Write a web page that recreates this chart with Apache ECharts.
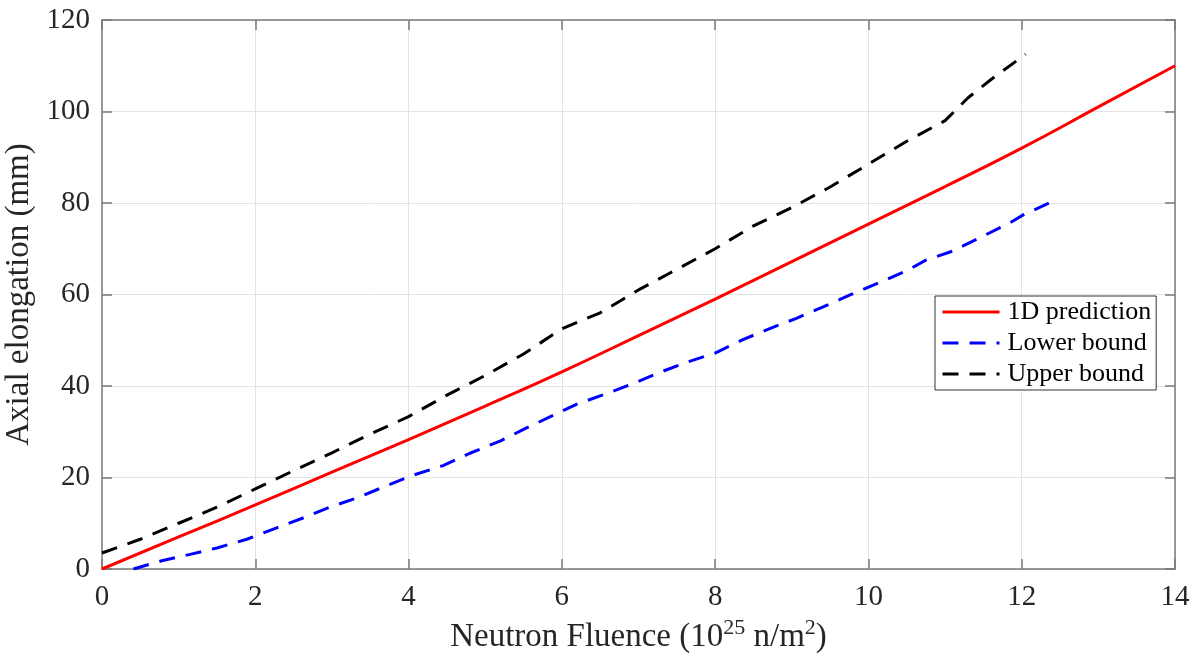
<!DOCTYPE html>
<html><head><meta charset="utf-8">
<script src="https://cdn.jsdelivr.net/npm/echarts@6/dist/echarts.min.js"></script>
<style>html,body{margin:0;padding:0;background:#fff}#c{width:1199px;height:663px}</style>
</head><body><div id="c"></div>
<script>
const xTicks = [0,2,4,6,8,10,12,14];
const yTicks = [0,20,40,60,80,100,120];
const predX = [0,1,2,3,4,5,6,7,8,9,10,11,12,13,14];
const predY = [0,7.0,14,21.2,28.3,35.6,43.1,51,59,67.2,75.4,83.6,92,101,110];
const lowerX = [0.41,0.78,1.15,1.5,1.89,2.28,2.63,2.97,3.37,3.71,4.06,4.45,4.8,5.2,5.5,5.85,6.19,6.56,6.91,7.28,7.63,8.0,8.37,8.72,9.06,9.41,9.76,10.13,10.5,10.75,11.1,11.5,11.87,12.02,12.37];
const lowerY = [0,1.8,3.2,4.6,6.5,9,11.2,13.5,15.8,18.2,20.5,22.6,25.3,28,30.5,33.3,36,38.2,40.4,43,45.2,47.2,50.2,52.6,54.8,57.3,59.9,62.5,65.2,67.5,69.5,72.8,75.9,77.4,80.1];
const upperX = [0,0.5,1,1.5,2,2.5,3,3.5,4,4.5,5,5.5,6,6.5,7,7.5,8,8.5,9,9.5,10,10.5,11,11.3,11.6,12.05];
const upperY = [3.5,6.5,10,13.5,17.5,21.5,25.4,29.5,33.3,38,42.3,47,52.5,56,61,65.5,70,75,79,83.5,88.5,93.5,98,103,107,112.5];
const names = ['1D prediction','Lower bound','Upper bound'];

const zip = (a,b)=>a.map((v,i)=>[v,b[i]]);
const font = 'Liberation Serif';
const axisCol = '#7a7a7a';
const txtCol = '#262626';
const chart = echarts.init(document.getElementById('c'));
const xBase = {type:'value',min:0,max:14,interval:2,
  axisLine:{show:true,onZero:false,lineStyle:{color:axisCol,width:1.5}},
  axisTick:{show:true,inside:true,length:10,lineStyle:{color:axisCol,width:1.5}}};
const yBase = {type:'value',min:0,max:120,interval:20,
  axisLine:{show:true,onZero:false,lineStyle:{color:axisCol,width:1.5}},
  axisTick:{show:true,inside:true,length:10,lineStyle:{color:axisCol,width:1.5}}};
chart.setOption({
  animation:false,
  textStyle:{fontFamily:font},
  grid:{left:102,top:20,width:1073,height:549,containLabel:false,outerBoundsMode:'none'},
  xAxis:[
    Object.assign({},xBase,{position:'bottom',
      axisLabel:{color:txtCol,fontSize:29,fontFamily:font,margin:14,formatter:v=>xTicks.includes(v)?String(v):''},
      splitLine:{show:true,lineStyle:{color:'#e3e3e3',width:1}},
      name:'{a|Neutron Fluence (10}{s|25}{a| n/m}{s|2}{a|)}',nameLocation:'middle',nameGap:46,
      nameTextStyle:{rich:{a:{fontSize:33,fontFamily:font,color:txtCol,verticalAlign:'bottom'},s:{fontSize:22,fontFamily:font,color:txtCol,verticalAlign:'top',padding:[0,0,15,0]}}}}),
    Object.assign({},xBase,{position:'top',axisLabel:{show:false},splitLine:{show:false}})
  ],
  yAxis:[
    Object.assign({},yBase,{position:'left',
      axisLabel:{color:txtCol,fontSize:29,fontFamily:font,margin:12,formatter:v=>yTicks.includes(v)?String(v):''},
      splitLine:{show:true,lineStyle:{color:'#e3e3e3',width:1}},
      name:'Axial elongation (mm)',nameLocation:'middle',nameGap:63,
      nameTextStyle:{fontSize:33,fontFamily:font,color:txtCol}}),
    Object.assign({},yBase,{position:'right',axisLabel:{show:false},splitLine:{show:false}})
  ],
  legend:{left:935,top:296,orient:'vertical',backgroundColor:'#fff',borderColor:'#333',borderWidth:1,
    padding:[3,5,3,6],itemGap:5,itemWidth:57,itemHeight:18,
    itemStyle:{color:'rgba(0,0,0,0)',borderColor:'rgba(0,0,0,0)',borderWidth:0},
    lineStyle:{width:3},
    textStyle:{fontSize:26,fontFamily:font,color:'#000',padding:[0,0,0,3]},data:names},
  series:[
    {name:names[0],type:'line',data:zip(predX,predY),showSymbol:false,symbol:'none',smooth:true,
      lineStyle:{color:'#ff0000',width:3},itemStyle:{color:'#ff0000'}},
    {name:names[1],type:'line',data:zip(lowerX,lowerY),showSymbol:false,symbol:'none',
      lineStyle:{color:'#0000ff',width:3,type:[16,11]},itemStyle:{color:'#0000ff'}},
    {name:names[2],type:'line',data:zip(upperX,upperY),showSymbol:false,symbol:'none',
      lineStyle:{color:'#000000',width:3,type:[16,11]},itemStyle:{color:'#000000'}}
  ]
});
</script></body></html>
